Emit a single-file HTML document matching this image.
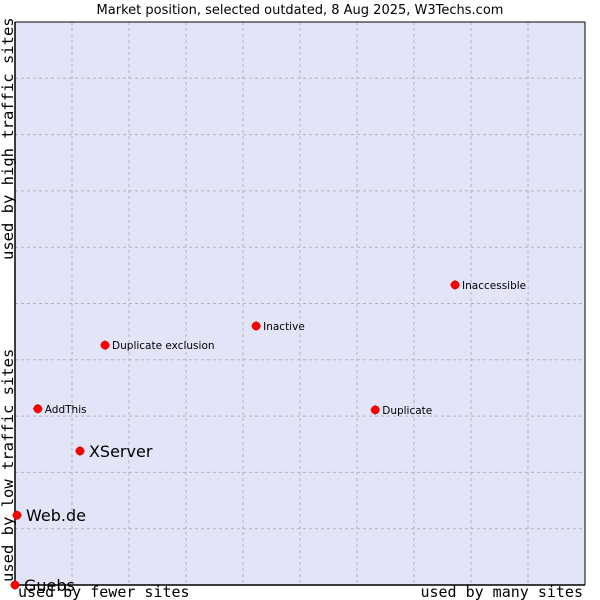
<!DOCTYPE html>
<html><head><meta charset="utf-8"><style>
body{margin:0;background:#fff;}
svg{display:block;font-family:"DejaVu Sans","Liberation Sans",sans-serif;}
</style></head><body>
<svg id="chart" width="600" height="600">
<text x="300" y="14" text-anchor="middle" font-size="13" fill="#000">Market position, selected outdated, 8 Aug 2025, W3Techs.com</text>
<rect x="15" y="22" width="570" height="563" fill="#e2e4f8"/>
<g id="grid"></g>
<line x1="15" y1="22" x2="15" y2="585" stroke="#000" stroke-width="1.5"/>
<line x1="15" y1="585" x2="585" y2="585" stroke="#000" stroke-width="1.5"/>
<line x1="15" y1="22" x2="585" y2="22" stroke="#000" stroke-width="1"/>
<line x1="585" y1="22" x2="585" y2="585" stroke="#000" stroke-width="1"/>
<g id="points"></g>
<text x="18" y="597" font-family="'DejaVu Sans Mono','Liberation Mono',monospace" font-size="15">used by fewer sites</text>
<text x="583" y="597" text-anchor="end" font-family="'DejaVu Sans Mono','Liberation Mono',monospace" font-size="15">used by many sites</text>
<text transform="translate(13,582) rotate(-90)" font-family="'DejaVu Sans Mono','Liberation Mono',monospace" font-size="15.5">used by low traffic sites</text>
<text transform="translate(13,260) rotate(-90)" font-family="'DejaVu Sans Mono','Liberation Mono',monospace" font-size="15.5">used by high traffic sites</text>
</svg>
<script>
const names=["XServer","Web.de","Guebs","AddThis","Duplicate exclusion","Inactive","Duplicate","Inaccessible"];
const xValues=[11.4,0.35,0,4.0,15.8,42.3,63.2,77.2];
const yValues=[23.8,12.4,0,31.3,42.6,46.0,31.1,53.3];
const large=[true,true,true,false,false,false,false,false];
const NS="http://www.w3.org/2000/svg";
const X=v=>15+v*5.7, Y=v=>585-v*5.63;
const grid=document.getElementById('grid');
for(let i=1;i<10;i++){
 const v=document.createElementNS(NS,'line');
 v.setAttribute('x1',X(i*10));v.setAttribute('x2',X(i*10));v.setAttribute('y1',22);v.setAttribute('y2',585);
 v.setAttribute('stroke','#b4b4b4');v.setAttribute('stroke-dasharray','3,3');
 
 
 grid.appendChild(v);
 const h=document.createElementNS(NS,'line');
 h.setAttribute('y1',Y(i*10));h.setAttribute('y2',Y(i*10));h.setAttribute('x1',15);h.setAttribute('x2',585);
 h.setAttribute('stroke','#b4b4b4');h.setAttribute('stroke-dasharray','3,3');
 
 
 grid.appendChild(h);
}
const pts=document.getElementById('points');
names.forEach((n,i)=>{
 const x=X(xValues[i]),y=Y(yValues[i]);
 const d=document.createElementNS(NS,'polygon');
 d.setAttribute('points',`${x},${y-4.5} ${x+3},${y-3} ${x+4.5},${y} ${x+3},${y+3} ${x},${y+4.5} ${x-3},${y+3} ${x-4.5},${y} ${x-3},${y-3}`);
 d.setAttribute('fill','#f00');d.setAttribute('stroke','#c00');d.setAttribute('stroke-width','0.5');
 
 
 pts.appendChild(d);
 const t=document.createElementNS(NS,'text');
 t.setAttribute('x',x+(large[i]?9:7));t.setAttribute('y',y+(large[i]?6:4));
 t.setAttribute('font-size',large[i]?16:10.5);
 t.textContent=n;
 
 
 pts.appendChild(t);
});
</script>
</body></html>
